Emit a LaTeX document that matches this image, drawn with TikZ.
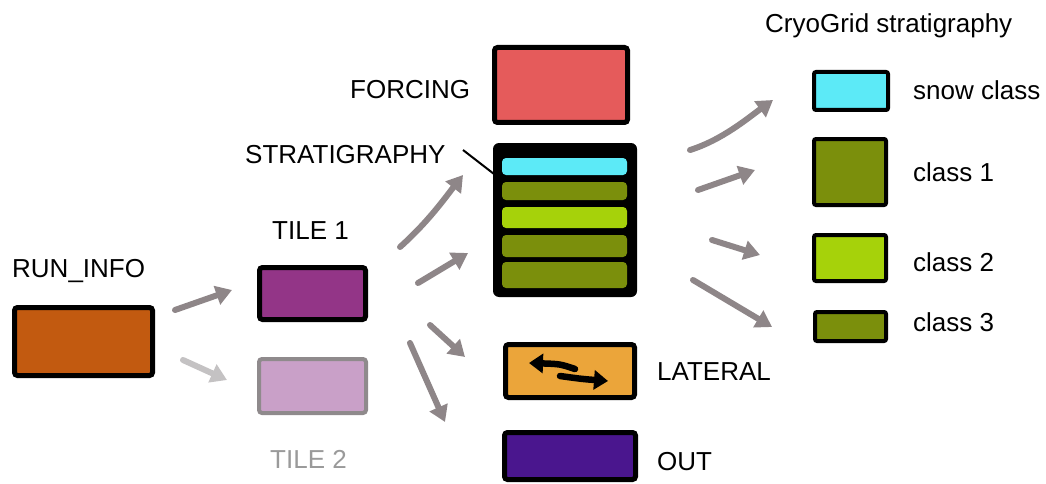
\documentclass[tikz,border=0pt]{standalone}
\usepackage{fontspec}
\setmainfont{Liberation Sans}
\usetikzlibrary{arrows.meta}
\definecolor{runc}{HTML}{C25A10}
\definecolor{tileone}{HTML}{933587}
\definecolor{tiletwo}{HTML}{C9A0C8}
\definecolor{tiletwoedge}{HTML}{8F8A8C}
\definecolor{forcc}{HTML}{E55B5B}
\definecolor{snowc}{HTML}{5CEAF7}
\definecolor{olivec}{HTML}{7B8F0C}
\definecolor{lgreenc}{HTML}{A6D20A}
\definecolor{latc}{HTML}{EBA53A}
\definecolor{outc}{HTML}{4A168E}
\definecolor{arrowgray}{HTML}{8E8688}
\definecolor{lightarrow}{HTML}{C4C2C3}
\definecolor{graytext}{HTML}{9A9A9A}
\begin{document}
\begin{tikzpicture}[x=1pt,y=-1pt,
  box/.style={draw=black, line width=5pt, rounded corners=3pt, inner sep=0pt},
  sbox/.style={draw=black, line width=4pt, rounded corners=2pt, inner sep=0pt},
  layer/.style={rounded corners=4pt, inner sep=0pt, minimum width=125pt},
  lbl/.style={anchor=base west, inner sep=0pt, font=\fontsize{26}{30}\selectfont},
  flow/.style={draw=arrowgray, line width=6pt, line cap=round, -{Triangle[length=16pt,width=19pt]}},
  flowlight/.style={flow, draw=lightarrow},
  swap/.style={draw=black, line width=6.5pt, line cap=round, -{Triangle[length=14pt,width=19pt]}}]
\useasboundingbox (0,0) rectangle (1046,484);

% boxes
\node[box, fill=runc, minimum width=138pt, minimum height=68pt] (run) at (83.5,341.5) {};
\node[box, fill=tileone, minimum width=106pt, minimum height=52pt] (tile1) at (312.5,293.5) {};
\node[box, draw=tiletwoedge, line width=4pt, fill=tiletwo, minimum width=107pt, minimum height=54pt] (tile2) at (312.5,386) {};
\node[box, fill=forcc, minimum width=133pt, minimum height=75pt] (forc) at (561,85) {};
\node[fill=black, rounded corners=6pt, inner sep=0pt, minimum width=144pt, minimum height=154pt] (strat) at (565,220) {};
\node[layer, fill=snowc, minimum height=17pt] (l1) at (564.5,166.5) {};
\node[layer, fill=olivec, minimum height=18pt] (l2) at (564.5,191) {};
\node[layer, fill=lgreenc, minimum height=21pt] (l3) at (564.5,217.5) {};
\node[layer, fill=olivec, minimum height=22pt] (l4) at (564.5,246) {};
\node[layer, fill=olivec, minimum height=26pt] (l5) at (564.5,275) {};
\node[box, fill=latc, minimum width=129pt, minimum height=53pt] (lat) at (570,371) {};
\node[box, fill=outc, minimum width=131pt, minimum height=47pt] (out) at (570,456) {};

\node[sbox, fill=snowc, minimum width=74pt, minimum height=38pt] (snow) at (851,91) {};
\node[sbox, fill=olivec, minimum width=72pt, minimum height=66pt] (c1) at (850,172) {};
\node[sbox, fill=lgreenc, minimum width=72pt, minimum height=46pt] (c2) at (850,258) {};
\node[sbox, fill=olivec, minimum width=71pt, minimum height=29pt] (c3) at (850.5,326.5) {};

% labels
\node[lbl] (runl) at (12,277) {RUN\_INFO};
\node[lbl] (t1l) at (272,239) {TILE 1};
\node[lbl, text=graytext] (t2l) at (270,468) {TILE 2};
\node[lbl] (forl) at (350,99) {FORCING};
\node[lbl] (strl) at (245,163) {STRATIGRAPHY};
\node[lbl] (latl) at (657,380) {LATERAL};
\node[lbl] (outl) at (657,470) {OUT};
\node[lbl] (cgl) at (765,33) {CryoGrid stratigraphy};
\node[lbl] (snowl) at (913,100) {snow class};
\node[lbl] (c1l) at (913,181) {class 1};
\node[lbl] (c2l) at (913,271) {class 2};
\node[lbl] (c3l) at (913,331) {class 3};

% pointer line
\coordinate (p1) at (463,150);
\coordinate (p2) at (494,174);
\draw[line width=2pt] (p1) -- (p2);

% arrow coordinates
\coordinate (a1s) at (175,310); \coordinate (a1e) at (232,290);
\coordinate (a2s) at (183,360); \coordinate (a2e) at (227,380);
\coordinate (b1s) at (400,247); \coordinate (b1e) at (463,175);
\coordinate (b2s) at (418,283); \coordinate (b2e) at (468,253);
\coordinate (b3s) at (430,325); \coordinate (b3e) at (465,357);
\coordinate (b4s) at (410,343); \coordinate (b4e) at (445,422);
\coordinate (c1s) at (690,150); \coordinate (c1e) at (773,100);
\coordinate (c2s) at (698,190); \coordinate (c2e) at (755,170);
\coordinate (c3s) at (712,240); \coordinate (c3e) at (760,255);
\coordinate (c4s) at (693,280); \coordinate (c4e) at (772,327);

\draw[flow] (a1s) -- (a1e);
\draw[flowlight] (a2s) -- (a2e);
\draw[flow] (b1s) .. controls (428,222) and (445,198) .. (b1e);
\draw[flow] (b2s) -- (b2e);
\draw[flow] (b3s) -- (b3e);
\draw[flow] (b4s) -- (b4e);
\draw[flow] (c1s) .. controls (722,140) and (748,118) .. (c1e);
\draw[flow] (c2s) -- (c2e);
\draw[flow] (c3s) -- (c3e);
\draw[flow] (c4s) -- (c4e);

% lateral swap arrows
\coordinate (la1) at (575,369); \coordinate (la2) at (529,363);
\coordinate (la3) at (560,376); \coordinate (la4) at (608,381);
\draw[swap] (la1) .. controls (560,364) .. (la2);
\draw[swap] (la3) .. controls (582,379) .. (la4);
\end{tikzpicture}
\end{document}
